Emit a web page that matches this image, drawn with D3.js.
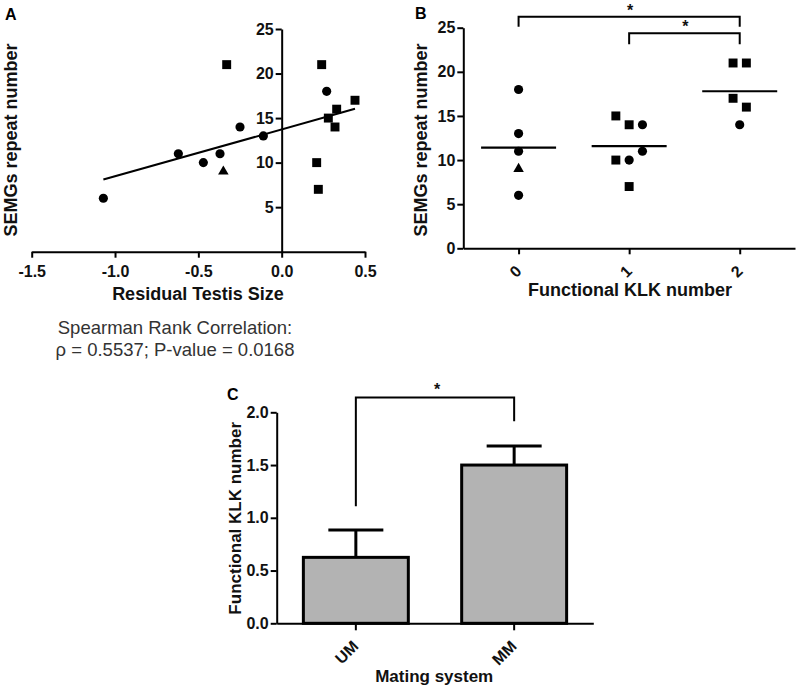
<!DOCTYPE html>
<html>
<head>
<meta charset="utf-8">
<script src="https://cdn.jsdelivr.net/npm/d3@7"></script>
<style>
  html, body { margin: 0; padding: 0; background: #fff; }
  svg { display: block; font-family: "Liberation Sans", Arial, Helvetica, sans-serif; }
</style>
</head>
<body>
<svg id="chart" width="800" height="690"></svg>
<script>
// ---------- Panel A data ----------
const aResidualTestis = [-1.07,-0.62,-0.47,-0.37,-0.35,-0.33,-0.25,-0.11,0.21,0.22,0.24,0.27,0.28,0.33,0.32,0.44];
const aRepeatNumber   = [6,11,10,11,9,21,14,13,10,7,21,18,15,16,14,17];
const aShape          = ["circle","circle","circle","circle","triangle","square","circle","circle","square","square","square","circle","square","square","square","square"];
const aXTicks = [-1.5,-1.0,-0.5,0.0,0.5];
const aYTicks = [5,10,15,20,25];
const spearmanLines = ["Spearman Rank Correlation:", "\u03C1 = 0.5537; P-value = 0.0168"];

// ---------- Panel B data ----------
const bCategories = ["0","1","2"];
const bGroup  = ["0","0","0","0","0","1","1","1","1","1","1","1","2","2","2","2","2"];
const bValue  = [18,13,11,9,6, 15,14,14,11,10,10,7, 21,21,17,16,14];
const bShape  = ["circle","circle","circle","triangle","circle",
                 "square","square","circle","circle","square","circle","square",
                 "square","square","square","square","circle"];
const bColumn = [0,0,0,0,0, -1,0,1,1,-1,0,0, -0.5,0.5,-0.5,0.5,0];
const bYTicks = [0,5,10,15,20,25];
const bBracketFrom = ["0","1"];
const bBracketTo   = ["2","2"];
const bBracketTop  = [26.25, 24.37];
const bBracketEnd  = [25.12, 23.12];
const bBracketLabel = ["*","*"];

// ---------- Panel C data ----------
const cCategories = ["UM","MM"];
const cMeans  = [0.625, 1.5];
const cErrors = [0.26, 0.18];
const cYTicks = [0.0,0.5,1.0,1.5,2.0];
const cBracketTop = 2.14;
const cBracketLeftEnd = 1.11;
const cBracketRightEnd = 1.915;

// ---------- drawing ----------
const svg = d3.select("#chart");
const LINE = "#000";
const TEXT = "#111";

function marker(shape) {
  const type = shape === "circle" ? d3.symbolCircle : shape === "square" ? d3.symbolSquare : d3.symbolTriangle;
  const size = shape === "circle" ? 66 : shape === "square" ? 80 : 48;
  return d3.symbol().type(type).size(size)();
}
function styleAxis(g) {
  g.attr("font-family", null).attr("font-size", null);
  g.selectAll("path.domain").attr("stroke", LINE).attr("stroke-width", 2);
  g.selectAll(".tick line").attr("stroke", LINE).attr("stroke-width", 2);
  g.selectAll(".tick text").attr("font-size", 16).attr("font-weight", "bold").attr("fill", TEXT);
}
function panelLabel(t, x, y) {
  svg.append("text").attr("x", x).attr("y", y).text(t)
    .attr("font-size", 16).attr("font-weight", "bold").attr("fill", "#000");
}
function yTitle(t, x, y, size) {
  svg.append("text").attr("transform", `translate(${x},${y}) rotate(-90)`)
    .attr("text-anchor", "middle").attr("font-size", size).attr("font-weight", "bold")
    .attr("fill", TEXT).text(t);
}
function xTitle(t, x, y, size) {
  svg.append("text").attr("x", x).attr("y", y).attr("text-anchor", "middle")
    .attr("font-size", size).attr("font-weight", "bold").attr("fill", TEXT).text(t);
}

// ===== Panel A =====
const xA = d3.scaleLinear().domain([-1.5, 0.5]).range([31.7, 365]);
const yA = d3.scaleLinear().domain([0, 25]).range([251.7, 29]);
const gA = svg.append("g");
gA.append("g").attr("transform", `translate(0,${yA(0)})`)
  .call(d3.axisBottom(xA).tickValues(aXTicks).tickFormat(d => d.toFixed(1)).tickSize(6).tickSizeOuter(0).tickPadding(8))
  .call(styleAxis);
gA.append("g").attr("transform", `translate(${xA(0)},0)`)
  .call(d3.axisLeft(yA).tickValues(aYTicks).tickSize(6).tickSizeOuter(0).tickPadding(2))
  .call(styleAxis);

// regression line (least squares)
const mx = d3.mean(aResidualTestis), my = d3.mean(aRepeatNumber);
let sxy = 0, sxx = 0;
aResidualTestis.forEach((x, i) => { sxy += (x - mx) * (aRepeatNumber[i] - my); sxx += (x - mx) * (x - mx); });
const slope = sxy / sxx, intercept = my - slope * mx;
const [xmin, xmax] = d3.extent(aResidualTestis);
gA.append("line")
  .attr("x1", xA(xmin)).attr("y1", yA(intercept + slope * xmin))
  .attr("x2", xA(xmax)).attr("y2", yA(intercept + slope * xmax))
  .attr("stroke", LINE).attr("stroke-width", 2);

gA.selectAll("path.pt").data(aResidualTestis).join("path").attr("class", "pt")
  .attr("d", (d, i) => marker(aShape[i]))
  .attr("transform", (d, i) => `translate(${xA(d)},${yA(aRepeatNumber[i])})`)
  .attr("fill", "#000");

panelLabel("A", 5, 20);
yTitle("SEMGs repeat number", 16.5, 140, 18);
xTitle("Residual Testis Size", 198, 300, 18);
svg.append("g").selectAll("text").data(spearmanLines).join("text")
  .attr("x", 175).attr("y", (d, i) => 334.3 + i * 21.7)
  .attr("text-anchor", "middle").attr("font-size", 18.5).attr("fill", "#333").text(d => d);

// ===== Panel B =====
const xB = d3.scalePoint().domain(bCategories).range([463.3, 795]).padding(0.5);
const yB = d3.scaleLinear().domain([0, 25]).range([248.3, 27.7]);
const colStep = 13.3;
const gB = svg.append("g");
gB.append("g").attr("transform", `translate(0,${yB(0)})`)
  .call(d3.axisBottom(xB).tickSize(6).tickSizeOuter(0))
  .call(styleAxis)
  .call(g => g.selectAll(".tick text")
    .attr("x", 3.5).attr("y", 24).attr("dy", 0)
    .attr("transform", "rotate(-45 3.5 24)").style("text-anchor", "end"));
gB.append("g").attr("transform", `translate(${xB.range()[0]},0)`)
  .call(d3.axisLeft(yB).tickValues(bYTicks).tickSize(6).tickSizeOuter(0).tickPadding(2))
  .call(styleAxis);

// mean lines
const bMeans = bCategories.map(c => d3.mean(bValue.filter((v, i) => bGroup[i] === c)));
gB.selectAll("line.mean").data(bCategories).join("line").attr("class", "mean")
  .attr("x1", c => xB(c) - 37.5).attr("x2", c => xB(c) + 37.5)
  .attr("y1", (c, i) => yB(bMeans[i])).attr("y2", (c, i) => yB(bMeans[i]))
  .attr("stroke", LINE).attr("stroke-width", 2.2);

gB.selectAll("path.pt").data(bValue).join("path").attr("class", "pt")
  .attr("d", (d, i) => marker(bShape[i]))
  .attr("transform", (d, i) => `translate(${xB(bGroup[i]) + bColumn[i] * colStep},${yB(d)})`)
  .attr("fill", "#000");

// significance brackets
bBracketFrom.forEach((f, i) => {
  const x1 = xB(f), x2 = xB(bBracketTo[i]);
  const yt = yB(bBracketTop[i]), ye = yB(bBracketEnd[i]);
  gB.append("path").attr("d", `M${x1},${ye}V${yt}H${x2}V${ye}`)
    .attr("fill", "none").attr("stroke", LINE).attr("stroke-width", 2);
  gB.append("text").attr("x", (x1 + x2) / 2 + 1).attr("y", yt - 1)
    .attr("text-anchor", "middle").attr("font-size", 16).attr("font-weight", "bold")
    .attr("fill", TEXT).text(bBracketLabel[i]);
});

panelLabel("B", 415, 18.5);
yTitle("SEMGs repeat number", 426.5, 140, 18);
xTitle("Functional KLK number", 630, 296, 18);

// ===== Panel C =====
const xC = d3.scaleBand().domain(cCategories).range([276.7, 593.3]).paddingInner(0.337).paddingOuter(0.1685);
const yC = d3.scaleLinear().domain([0, 2]).range([623.3, 412.3]);
const gC = svg.append("g");

gC.selectAll("rect.bar").data(cMeans).join("rect").attr("class", "bar")
  .attr("x", (d, i) => xC(cCategories[i])).attr("width", xC.bandwidth())
  .attr("y", d => yC(d)).attr("height", d => yC(0) - yC(d))
  .attr("fill", "#b3b3b3").attr("stroke", LINE).attr("stroke-width", 3);

const capHalf = 27.5;
cMeans.forEach((m, i) => {
  const cx = xC(cCategories[i]) + xC.bandwidth() / 2;
  gC.append("line").attr("x1", cx).attr("x2", cx).attr("y1", yC(m)).attr("y2", yC(m + cErrors[i]))
    .attr("stroke", LINE).attr("stroke-width", 3);
  gC.append("line").attr("x1", cx - capHalf).attr("x2", cx + capHalf)
    .attr("y1", yC(m + cErrors[i])).attr("y2", yC(m + cErrors[i]))
    .attr("stroke", LINE).attr("stroke-width", 3);
});

gC.append("g").attr("transform", `translate(0,${yC(0)})`)
  .call(d3.axisBottom(xC).tickSize(7).tickSizeOuter(0))
  .call(styleAxis)
  .call(g => g.selectAll(".tick text")
    .attr("x", 3.5).attr("y", 24).attr("dy", 0)
    .attr("transform", "rotate(-45 3.5 24)").style("text-anchor", "end"));
gC.append("g").attr("transform", `translate(${xC.range()[0]},0)`)
  .call(d3.axisLeft(yC).tickValues(cYTicks).tickFormat(d => d.toFixed(1)).tickSize(6).tickSizeOuter(0).tickPadding(2))
  .call(styleAxis);

{
  const x1 = xC("UM") + xC.bandwidth() / 2, x2 = xC("MM") + xC.bandwidth() / 2;
  gC.append("path")
    .attr("d", `M${x1},${yC(cBracketLeftEnd)}V${yC(cBracketTop)}H${x2}V${yC(cBracketRightEnd)}`)
    .attr("fill", "none").attr("stroke", LINE).attr("stroke-width", 2);
  gC.append("text").attr("x", (x1 + x2) / 2 + 2).attr("y", yC(cBracketTop) - 3)
    .attr("text-anchor", "middle").attr("font-size", 16).attr("font-weight", "bold")
    .attr("fill", TEXT).text("*");
}

panelLabel("C", 227, 400);
yTitle("Functional KLK number", 241, 518.3, 17);
xTitle("Mating system", 434.2, 681.7, 17);
</script>
</body>
</html>
